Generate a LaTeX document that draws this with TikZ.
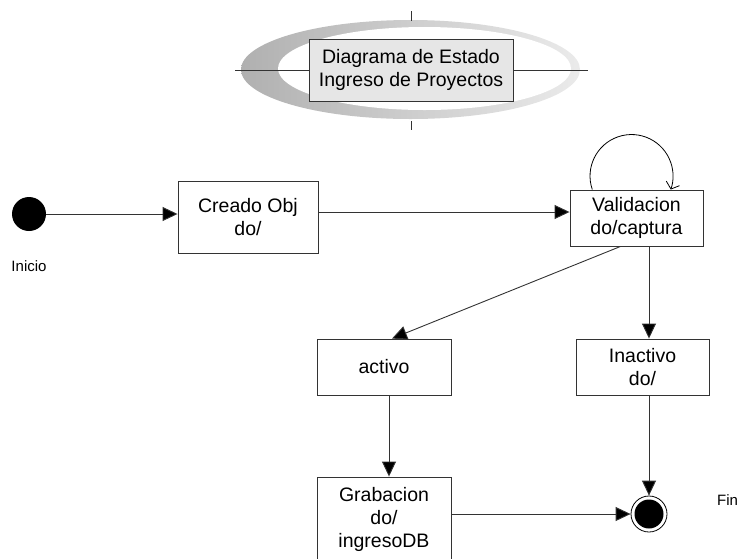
\documentclass[tikz,border=0pt]{standalone}
\usepackage{fontspec}
\setmainfont{Liberation Sans}
\usetikzlibrary{arrows.meta,shapes.geometric}
\definecolor{edge}{HTML}{333333}
\definecolor{titlefill}{HTML}{E6E6E6}
\tikzset{
  statebox/.style={draw=edge, line width=0.9pt, fill=white, align=center,
    inner sep=0pt, font=\fontsize{19.5}{23}\selectfont},
  arr/.style={draw=edge, line width=0.9pt, -{Triangle[length=15pt,width=14pt,fill=black]}},
  selfarr/.style={draw=black, line width=0.8pt, -{Straight Barb[length=6pt,width=14pt]}},
  smalllabel/.style={font=\fontsize{15}{18}\selectfont, inner sep=0pt},
  guide/.style={draw=edge, line width=0.9pt},
}
\begin{document}
\begin{tikzpicture}[x=1pt,y=-1pt]
\useasboundingbox (0,0) rectangle (740,558);

% title emblem: shaded ring behind a framed caption
\shade[left color=gray!62, right color=gray!16] (410.5,69.5) ellipse [x radius=169.5, y radius=49.5];
\fill[white] (424.5,68.5) ellipse [x radius=146.5, y radius=41.5];
\draw[guide] (235,70) -- (588,70);
\draw[guide] (411,11) -- (411,21);
\draw[guide] (411,121) -- (411,130);
\node[statebox, fill=titlefill, minimum width=204pt, minimum height=62pt] (title) at (411,70)
  {Diagrama de Estado\\Ingreso de Proyectos};

% pseudo states
\node[circle, fill=black, minimum size=34pt, inner sep=0pt] (init) at (29,214) {};
\node[smalllabel] (inilabel) at (29,266) {Inicio};
\node[circle, draw=black, line width=0.8pt, fill=white, minimum size=36pt, inner sep=0pt,
  path picture={\fill[black] (path picture bounding box.center) circle (14.5pt);}] (fin) at (649,514) {};
\node[smalllabel, anchor=west] (finlabel) at (717,500) {Fin};

% states
\node[statebox, minimum width=140pt, minimum height=72pt] (creado) at (248,217) {Creado Obj\\do/};
\node[statebox, minimum width=133pt, minimum height=56pt] (valid) at (636.5,218) {Validacion\\do/captura};
\node[statebox, minimum width=134pt, minimum height=56pt] (activo) at (384,367) {activo};
\node[statebox, minimum width=133pt, minimum height=56pt] (inact) at (642.5,367) {Inactivo\\do/};
\node[statebox, minimum width=134pt, minimum height=84pt] (grab) at (384,519) {Grabacion\\do/\\ingresoDB};

% transitions
\draw[arr] (init.east) -- (init.east -| creado.west);
\draw[arr] ([yshift=5pt]creado.east) -- ([yshift=5pt]creado.east -| valid.west);
\draw[selfarr] ([xshift=-44.2pt]valid.north) arc[start angle=161, end angle=379, radius=41.5];
\draw[arr] ([xshift=-16pt]valid.south) -- ([xshift=8pt]activo.north);
\draw[arr] ([xshift=12.5pt]valid.south) -- ([xshift=6.5pt]inact.north);
\draw[arr] ([xshift=5pt]activo.south) -- ([xshift=5pt]grab.north);
\draw[arr] ([xshift=6.5pt]inact.south) -- (fin.north);
\draw[arr] (grab.east |- fin.west) -- (fin.west);
\end{tikzpicture}
\end{document}
